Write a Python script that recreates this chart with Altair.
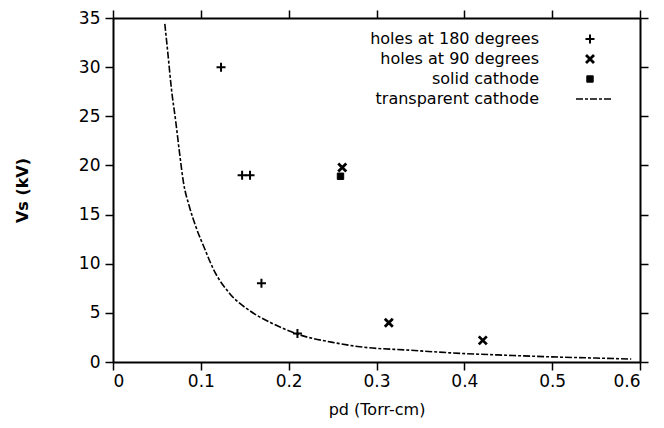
import altair as alt
import pandas as pd

# ---- data ----
series_names = ["holes at 180 degrees", "holes at  90 degrees", "solid cathode", "transparent cathode"]

h180_pd = [0.123, 0.147, 0.156, 0.169, 0.210]
h180_vs = [30.0, 19.0, 19.0, 8.0, 2.9]

h90_pd = [0.261, 0.314, 0.421]
h90_vs = [19.8, 4.0, 2.2]

solid_pd = [0.259]
solid_vs = [18.9]

curve_pd = [0.059, 0.0627, 0.0665, 0.0714, 0.076, 0.080, 0.087, 0.095, 0.1045, 0.114,
            0.133, 0.156, 0.182, 0.213, 0.25, 0.281, 0.338, 0.395, 0.45, 0.50, 0.55, 0.59]
curve_vs = [34.4, 31.2, 27.8, 24.5, 21.1, 18.4, 15.8, 13.6, 11.5, 9.5,
            6.95, 5.2, 3.9, 2.75, 2.0, 1.55, 1.2, 0.88, 0.68, 0.52, 0.4, 0.3]

x_ticks = [0, 0.1, 0.2, 0.3, 0.4, 0.5, 0.6]
y_ticks = [0, 5, 10, 15, 20, 25, 30, 35]

FONT = "DejaVu Sans"
PLUS = "M-1,0L1,0M0,-1L0,1"
CROSS = "M-1,-1L1,1M-1,1L1,-1"
SQUARE = "M-0.8,-0.8L0.8,-0.8L0.8,0.8L-0.8,0.8Z"

xs = alt.Scale(domain=[0, 0.6], nice=False, zero=False)
ys = alt.Scale(domain=[0, 35], nice=False, zero=False)

common_axis = dict(domainColor="black", domainWidth=2, tickColor="black", tickWidth=1.5,
                   tickSize=8, labelFont=FONT, labelFontSize=17, labelColor="black",
                   grid=False)

x_bottom = alt.Axis(values=x_ticks, labelExpr="datum.value == 0 ? '0' : format(datum.value, '.1f')",
                    labelPadding=3, title="pd (Torr-cm)", titleFont=FONT, titleFontSize=16,
                    titleFontWeight="normal", titleColor="black", titleY=47, titleBaseline="middle",
                    **common_axis)
y_left = alt.Axis(values=y_ticks, labelPadding=5, title="Vs (kV)", titleFont=FONT,
                  titleFontSize=16, titleFontWeight="bold", titleColor="black",
                  titleX=-91, titleY=172, titleBaseline="middle", titleAngle=-90, **common_axis)
x_top = alt.Axis(values=x_ticks, orient="top", labels=False, title=None, **common_axis)
y_right = alt.Axis(values=y_ticks, orient="right", labels=False, title=None, **common_axis)

curve_df = pd.DataFrame({"pd": curve_pd, "vs": curve_vs})
h180_df = pd.DataFrame({"pd": h180_pd, "vs": h180_vs})
h90_df = pd.DataFrame({"pd": h90_pd, "vs": h90_vs})
solid_df = pd.DataFrame({"pd": solid_pd, "vs": solid_vs})

DASH = [7, 2, 3, 2]

line = alt.Chart(curve_df).mark_line(color="black", strokeWidth=1.6, strokeDash=DASH,
                                     interpolate="monotone").encode(
    x=alt.X("pd:Q", scale=xs, axis=x_top),
    y=alt.Y("vs:Q", scale=ys, axis=y_right),
)

p180 = alt.Chart(h180_df).mark_point(shape=PLUS, size=81, filled=False, stroke="black",
                                     strokeWidth=2, opacity=1).encode(
    x=alt.X("pd:Q", scale=xs, axis=x_bottom),
    y=alt.Y("vs:Q", scale=ys, axis=y_left),
)
p90 = alt.Chart(h90_df).mark_point(shape=CROSS, size=64, filled=False, stroke="black",
                                   strokeWidth=2.8, opacity=1).encode(
    x=alt.X("pd:Q", scale=xs, axis=None), y=alt.Y("vs:Q", scale=ys, axis=None))
psolid = alt.Chart(solid_df).mark_point(shape=SQUARE, size=64, filled=True, fill="black",
                                        stroke="black", strokeWidth=1, opacity=1).encode(
    x=alt.X("pd:Q", scale=xs, axis=None), y=alt.Y("vs:Q", scale=ys, axis=None))

# ---- legend (label on the left, symbol on the right, as in the reference) ----
LEG_TEXT_X = 426
LEG_SYM_X = 477
LEG_Y0 = 21
LEG_DY = 20
legend_layers = []
marker_styles = [
    dict(shape=PLUS, size=81, filled=False, stroke="black", strokeWidth=2),
    dict(shape=CROSS, size=64, filled=False, stroke="black", strokeWidth=2.8),
    dict(shape=SQUARE, size=64, filled=True, fill="black", stroke="black", strokeWidth=1),
]
for i, name in enumerate(series_names):
    ldf = pd.DataFrame({"label": [name]})
    yv = LEG_Y0 + LEG_DY * i
    legend_layers.append(
        alt.Chart(ldf).mark_text(align="right", baseline="middle", font=FONT, fontSize=16,
                                 color="black").encode(
            x=alt.value(LEG_TEXT_X), y=alt.value(yv), text="label:N"))
    if i < 3:
        legend_layers.append(
            alt.Chart(ldf).mark_point(opacity=1, **marker_styles[i]).encode(
                x=alt.value(LEG_SYM_X), y=alt.value(yv)))
    else:
        legend_layers.append(
            alt.Chart(ldf).mark_rule(color="black", strokeWidth=1.6, strokeDash=DASH).encode(
                x=alt.value(LEG_SYM_X - 14), x2=alt.value(LEG_SYM_X + 23), y=alt.value(yv)))

chart = alt.layer(line, p180, p90, psolid, *legend_layers).resolve_axis(
    x="independent", y="independent"
).properties(
    width=527, height=344,
    autosize=alt.AutoSizeParams(type="none"),
    padding={"left": 105, "top": 10, "right": 16, "bottom": 58},
    background="white",
).configure_view(stroke=None)

chart.save("out.html", embed_options={"renderer": "svg", "actions": False})
